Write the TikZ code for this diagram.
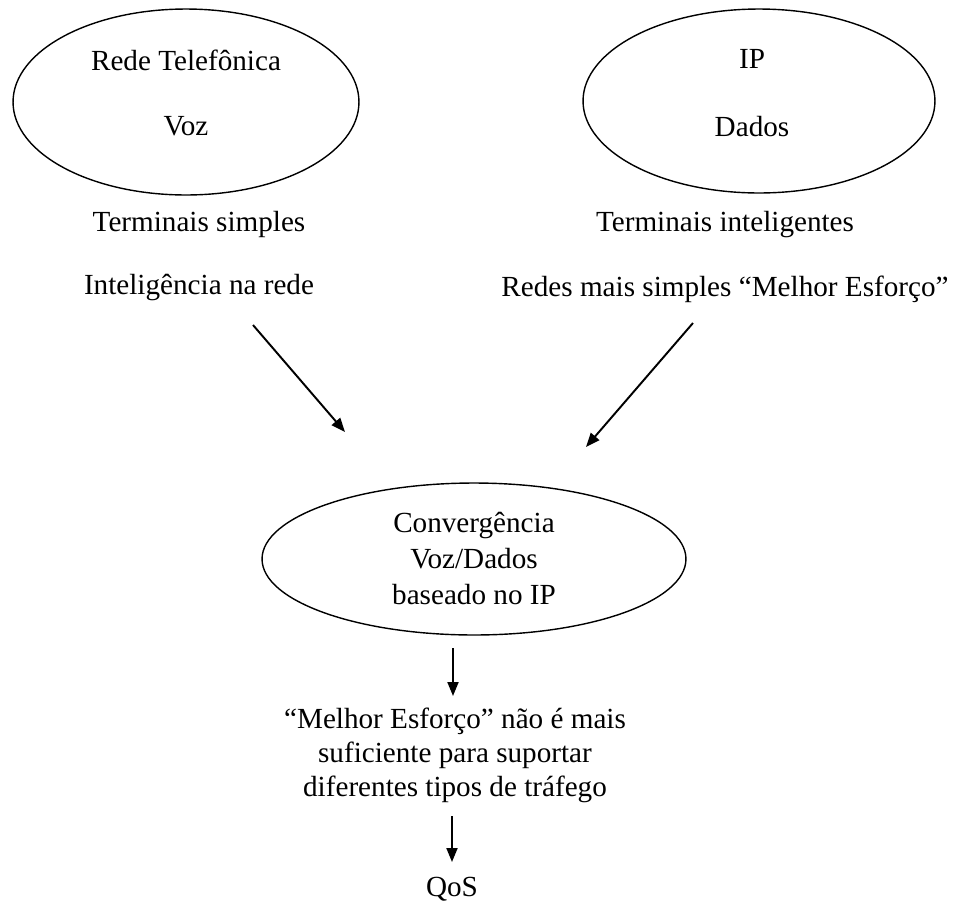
\documentclass[tikz,border=0pt]{standalone}
\usepackage{fontspec}
\setmainfont{Liberation Serif}
\usetikzlibrary{shapes.geometric,arrows.meta}

\begin{document}
\begin{tikzpicture}[x=0.02cm,y=-0.02cm,
    bolha/.style={draw, ellipse, line width=0.8pt, inner sep=0pt},
    texto/.style={anchor=base, inner sep=0pt, font=\fontsize{16.6}{19.5}\selectfont},
    seta/.style={-{Triangle[length=2.8mm,width=2.2mm]}, line width=1.1pt}]

    \useasboundingbox (0,0) rectangle (954,907);

    % Elipses
    \node[bolha, minimum width=6.92cm, minimum height=3.72cm] (tel)  at (186,102) {};
    \node[bolha, minimum width=7.04cm, minimum height=3.68cm] (ip)   at (759,101) {};
    \node[bolha, minimum width=8.48cm, minimum height=3.04cm] (conv) at (474,559) {};

    % Textos das elipses
    \node[texto] (telnome) at (186,70)  {Rede Telefônica};
    \node[texto] (telvoz)  at (186,135) {Voz};
    \node[texto] (ipnome)  at (752,68)  {IP};
    \node[texto] (ipdados) at (752,136) {Dados};
    \node[texto] (conv1) at (474,532) {Convergência};
    \node[texto] (conv2) at (474,568) {Voz/Dados};
    \node[texto] (conv3) at (474,604) {baseado no IP};

    % Caracteristicas
    \node[texto] (termsimp) at (199,231) {Terminais simples};
    \node[texto] (intrede)  at (199,294) {Inteligência na rede};
    \node[texto] (termint)  at (725,231) {Terminais inteligentes};
    \node[texto] (redsimp)  at (725,296) {Redes mais simples “Melhor Esforço”};

    % Conclusao
    \node[texto] (melhor1) at (455,728) {“Melhor Esforço” não é mais};
    \node[texto] (melhor2) at (455,762) {suficiente para suportar};
    \node[texto] (melhor3) at (455,796) {diferentes tipos de tráfego};
    \node[texto] (qos)     at (452,896) {QoS};

    % Pontas das setas
    \coordinate (s1) at (253,325);  \coordinate (e1) at (345,432);
    \coordinate (s2) at (693,323);  \coordinate (e2) at (586,447);
    \coordinate (s3) at (453,648);  \coordinate (e3) at (453,696);
    \coordinate (s4) at (452,816);  \coordinate (e4) at (452,862);

    % Setas
    \draw[seta] (s1) -- (e1);
    \draw[seta] (s2) -- (e2);
    \draw[seta] (s3) -- (e3);
    \draw[seta] (s4) -- (e4);

\end{tikzpicture}
\end{document}
